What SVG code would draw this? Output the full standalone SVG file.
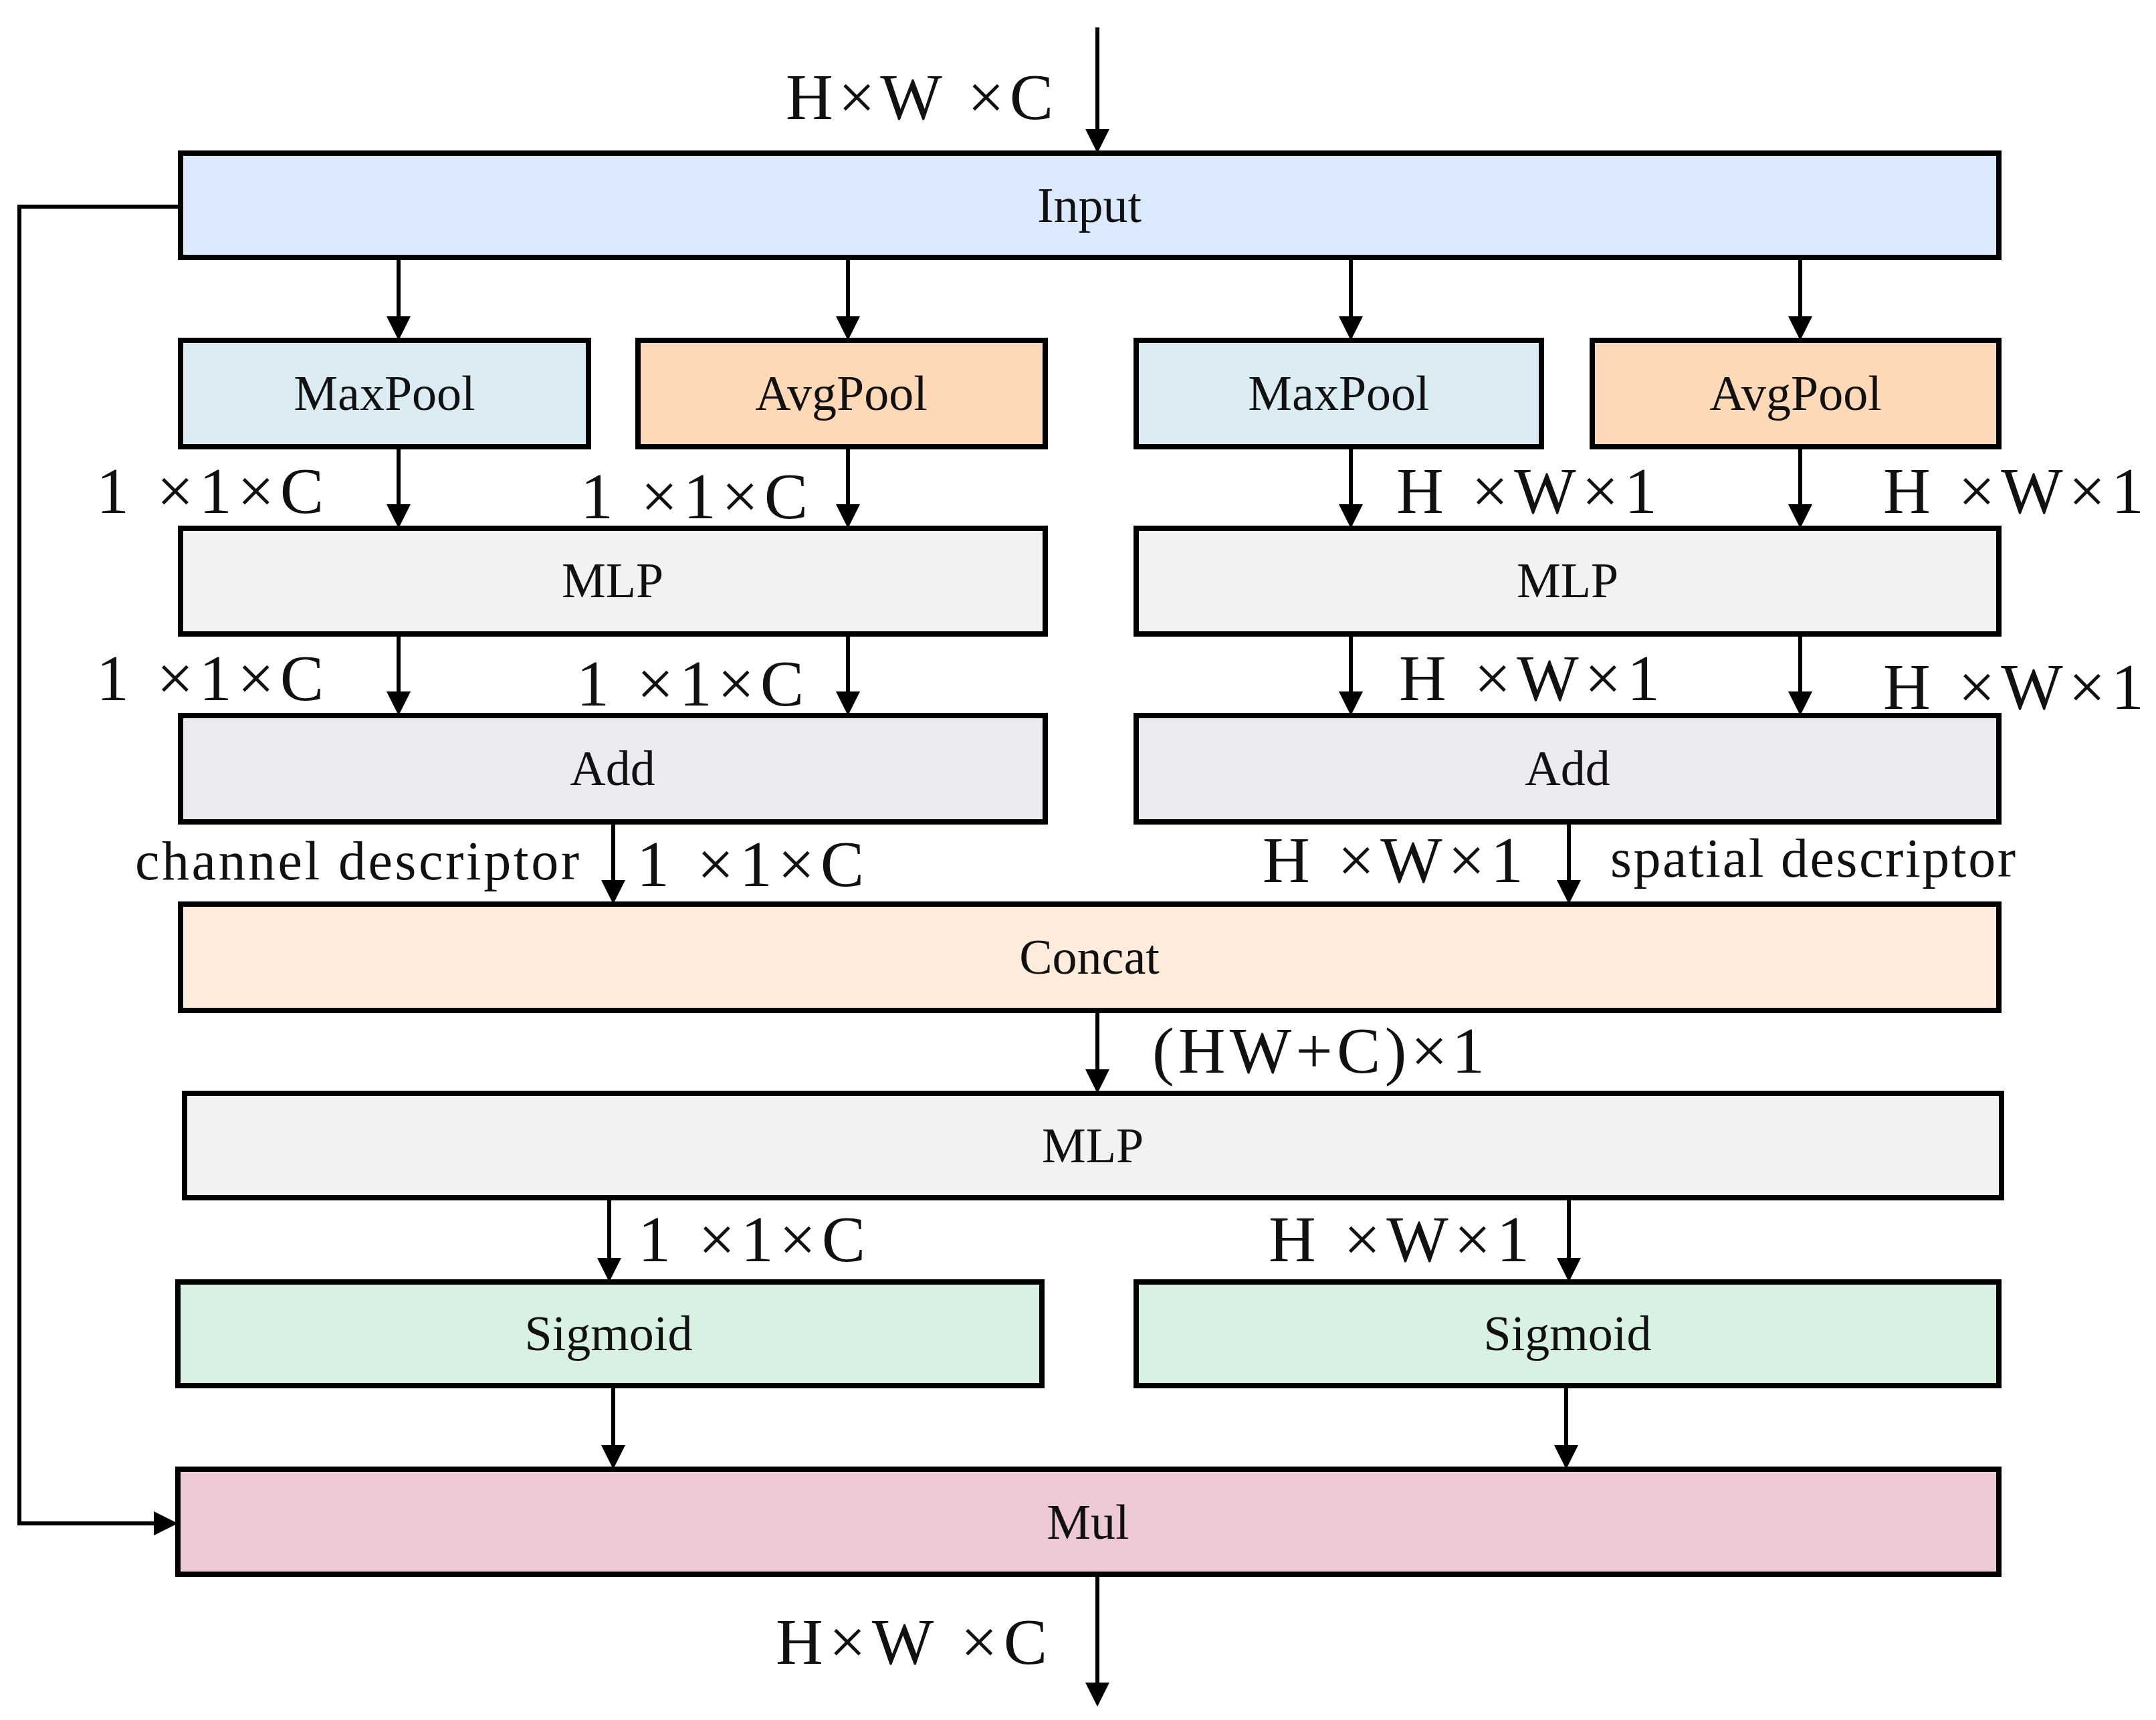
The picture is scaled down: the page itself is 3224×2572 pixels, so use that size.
<svg xmlns="http://www.w3.org/2000/svg" width="3224" height="2572" viewBox="0 0 3224 2572">
<defs>
<marker id="ah" markerWidth="6" markerHeight="6" refX="5" refY="3" orient="auto" markerUnits="strokeWidth"><path d="M0,0 L6,3 L0,6 z" fill="#000"/></marker>
<style>
.b{stroke:#000;stroke-width:8}
.t{font-family:"Liberation Serif",serif;font-size:74px;text-anchor:middle;fill:#111}
.d{font-family:"Liberation Serif",serif;font-size:98px;fill:#111}
.c{fill:none;stroke:#000;stroke-width:6;marker-end:url(#ah)}
</style>
</defs>
<rect width="3224" height="2572" fill="#fff"/>
<g id="input"><rect class="b" x="270" y="229" width="2719" height="156" fill="#dae9fb"/><text class="t" x="1629" y="332">Input</text></g>
<g id="maxpool1"><rect class="b" x="270" y="509" width="610" height="159" fill="#daecf1"/><text class="t" x="575" y="613">MaxPool</text></g>
<g id="avgpool1"><rect class="b" x="954" y="509" width="609" height="159" fill="#fdd9b7"/><text class="t" x="1258" y="613">AvgPool</text></g>
<g id="maxpool2"><rect class="b" x="1699" y="509" width="606" height="159" fill="#daecf1"/><text class="t" x="2002" y="613">MaxPool</text></g>
<g id="avgpool2"><rect class="b" x="2381" y="509" width="608" height="159" fill="#fdd9b7"/><text class="t" x="2685" y="613">AvgPool</text></g>
<g id="mlp1"><rect class="b" x="270" y="790" width="1293" height="158" fill="#f2f2f2"/><text class="t" x="916" y="893">MLP</text></g>
<g id="mlp2"><rect class="b" x="1699" y="790" width="1290" height="158" fill="#f2f2f2"/><text class="t" x="2344" y="893">MLP</text></g>
<g id="add1"><rect class="b" x="270" y="1070" width="1293" height="159" fill="#ece9f1"/><text class="t" x="916" y="1174">Add</text></g>
<g id="add2"><rect class="b" x="1699" y="1070" width="1290" height="159" fill="#ece9f1"/><text class="t" x="2344" y="1174">Add</text></g>
<g id="concat"><rect class="b" x="270" y="1352" width="2719" height="159" fill="#fdebdc"/><text class="t" x="1629" y="1456">Concat</text></g>
<g id="mlp3"><rect class="b" x="276" y="1635" width="2717" height="156" fill="#f2f2f2"/><text class="t" x="1634" y="1738">MLP</text></g>
<g id="sigmoid1"><rect class="b" x="266" y="1917" width="1292" height="155" fill="#d8f1e2"/><text class="t" x="910" y="2019">Sigmoid</text></g>
<g id="sigmoid2"><rect class="b" x="1699" y="1917" width="1290" height="155" fill="#d8f1e2"/><text class="t" x="2344" y="2019">Sigmoid</text></g>
<g id="mul"><rect class="b" x="266" y="2197" width="2723" height="157" fill="#ecc9d4"/><text class="t" x="1627" y="2301" fill="#1a1a3a">Mul</text></g>
<g id="connectors">
<line class="c" x1="1641" y1="41" x2="1641" y2="223"/>
<line class="c" x1="596" y1="389" x2="596" y2="503"/>
<line class="c" x1="1268" y1="389" x2="1268" y2="503"/>
<line class="c" x1="2020" y1="389" x2="2020" y2="503"/>
<line class="c" x1="2692" y1="389" x2="2692" y2="503"/>
<line class="c" x1="596" y1="672" x2="596" y2="784"/>
<line class="c" x1="1268" y1="672" x2="1268" y2="784"/>
<line class="c" x1="2020" y1="672" x2="2020" y2="784"/>
<line class="c" x1="2692" y1="672" x2="2692" y2="784"/>
<line class="c" x1="596" y1="952" x2="596" y2="1064"/>
<line class="c" x1="1268" y1="952" x2="1268" y2="1064"/>
<line class="c" x1="2020" y1="952" x2="2020" y2="1064"/>
<line class="c" x1="2692" y1="952" x2="2692" y2="1064"/>
<line class="c" x1="917" y1="1233" x2="917" y2="1346"/>
<line class="c" x1="2346" y1="1233" x2="2346" y2="1346"/>
<line class="c" x1="1641" y1="1515" x2="1641" y2="1629"/>
<line class="c" x1="911" y1="1795" x2="911" y2="1911"/>
<line class="c" x1="2346" y1="1795" x2="2346" y2="1911"/>
<line class="c" x1="917" y1="2076" x2="917" y2="2191"/>
<line class="c" x1="2342" y1="2076" x2="2342" y2="2191"/>
<polyline class="c" points="266,309 29,309 29,2278 260,2278"/>
<line class="c" x1="1641" y1="2358" x2="1641" y2="2546"/>
</g>
<g id="labels">
<text class="d" x="1175" y="178" textLength="400">H×W ×C</text>
<text class="d" x="144" y="767" textLength="340">1 ×1×C</text>
<text class="d" x="868" y="775" textLength="340">1 ×1×C</text>
<text class="d" x="2088" y="767" textLength="390">H ×W×1</text>
<text class="d" x="2816" y="767" textLength="390">H ×W×1</text>
<text class="d" x="144" y="1047" textLength="340">1 ×1×C</text>
<text class="d" x="862" y="1055" textLength="340">1 ×1×C</text>
<text class="d" x="2092" y="1047" textLength="390">H ×W×1</text>
<text class="d" x="2816" y="1060" textLength="390">H ×W×1</text>
<text class="d" x="202" y="1315" style="font-size:82px" textLength="664">channel descriptor</text>
<text class="d" x="952" y="1325" textLength="340">1 ×1×C</text>
<text class="d" x="1888" y="1319" textLength="390">H ×W×1</text>
<text class="d" x="2408" y="1311" style="font-size:82px" textLength="606">spatial descriptor</text>
<text class="d" x="1723" y="1604" textLength="497">(HW+C)×1</text>
<text class="d" x="954" y="1886" textLength="340">1 ×1×C</text>
<text class="d" x="1897" y="1886" textLength="390">H ×W×1</text>
<text class="d" x="1160" y="2488" textLength="406">H×W ×C</text>
</g>
</svg>
